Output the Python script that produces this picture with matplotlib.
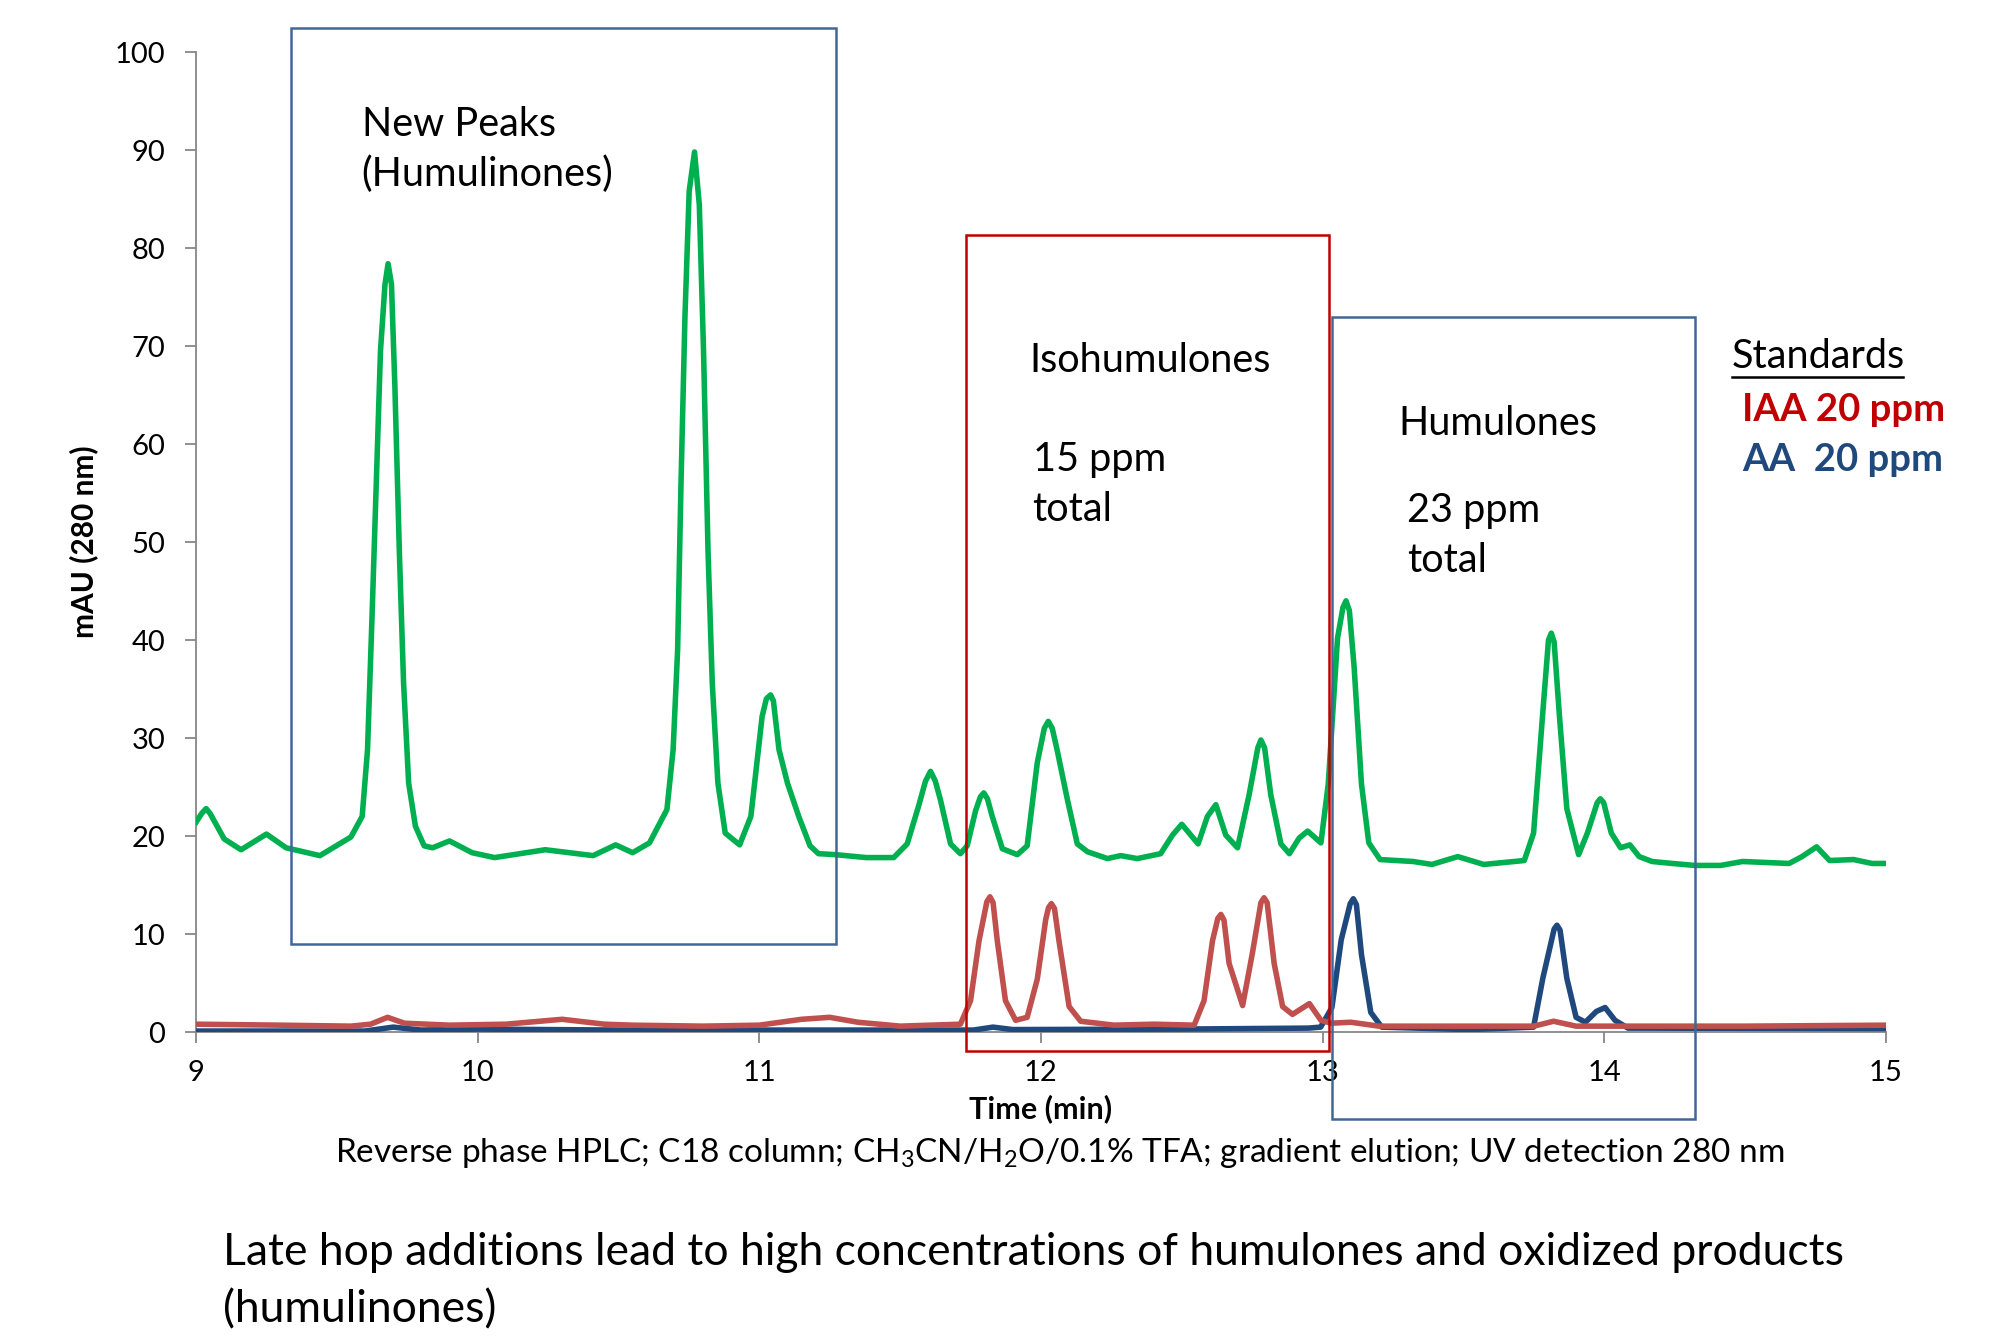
import matplotlib
matplotlib.use("Agg")
import matplotlib.pyplot as plt
from matplotlib.patches import Rectangle
from matplotlib.lines import Line2D

plt.rcParams['font.family'] = ['Lato', 'DejaVu Sans']
plt.rcParams['mathtext.fontset'] = 'custom'
plt.rcParams['mathtext.rm'] = 'Lato'

# green trace (sample)
green_t = [9.00, 9.02, 9.036, 9.05, 9.10, 9.16, 9.25, 9.32, 9.44, 9.55, 9.59, 9.609, 9.625, 9.64,
           9.655, 9.671, 9.682, 9.694, 9.706, 9.722, 9.737, 9.755, 9.779, 9.81, 9.84, 9.90,
           9.98, 10.06, 10.24, 10.41, 10.49, 10.55, 10.61, 10.672, 10.694, 10.71, 10.722,
           10.736, 10.751, 10.77, 10.787, 10.802, 10.818, 10.833, 10.853, 10.879, 10.93,
           10.97, 11.01, 11.025, 11.04, 11.05, 11.07, 11.10, 11.14, 11.18, 11.21, 11.27,
           11.38, 11.477, 11.525, 11.566, 11.59, 11.608, 11.625, 11.643, 11.679, 11.714,
           11.738, 11.768, 11.785, 11.797, 11.81, 11.827, 11.863, 11.916, 11.951, 11.987,
           12.012, 12.026, 12.04, 12.058, 12.094, 12.129, 12.165, 12.236, 12.283, 12.342,
           12.425, 12.467, 12.50, 12.558, 12.591, 12.621, 12.656, 12.698, 12.739, 12.77,
           12.781, 12.794, 12.816, 12.852, 12.882, 12.917, 12.947, 12.994, 13.02, 13.053,
           13.072, 13.083, 13.095, 13.112, 13.138, 13.164, 13.204, 13.322, 13.388, 13.48,
           13.572, 13.716, 13.749, 13.782, 13.802, 13.812, 13.822, 13.841, 13.867, 13.909,
           13.94, 13.975, 13.986, 13.998, 14.025, 14.058, 14.091, 14.124, 14.17, 14.242,
           14.321, 14.413, 14.491, 14.656, 14.702, 14.754, 14.80, 14.885, 14.951, 15.0]
green_v = [21.4, 22.3, 22.8, 22.3, 19.7, 18.6, 20.2, 18.8, 18.0, 19.9, 22.0, 28.8, 42.4, 55.9,
           69.5, 76.3, 78.4, 76.3, 66.0, 49.0, 35.6, 25.4, 21.0, 19.0, 18.8, 19.5,
           18.3, 17.8, 18.6, 18.0, 19.1, 18.3, 19.3, 22.7, 28.8, 39.0, 56.0,
           73.0, 85.8, 89.8, 84.4, 69.5, 49.0, 35.6, 25.4, 20.3, 19.1,
           22.0, 32.2, 34.0, 34.4, 33.8, 28.8, 25.4, 22.0, 19.0, 18.2, 18.1,
           17.8, 17.8, 19.2, 23.1, 25.6, 26.6, 25.6, 23.7, 19.2, 18.2,
           19.0, 22.6, 24.0, 24.4, 23.8, 22.0, 18.7, 18.1, 19.0, 27.5,
           31.0, 31.7, 31.0, 28.7, 23.7, 19.2, 18.4, 17.7, 18.0, 17.7,
           18.2, 20.1, 21.2, 19.2, 22.0, 23.2, 20.1, 18.8, 24.2, 29.0,
           29.8, 29.0, 24.2, 19.2, 18.2, 19.8, 20.5, 19.3, 25.3, 40.2,
           43.3, 44.0, 43.0, 37.2, 25.3, 19.3, 17.6, 17.4, 17.1, 17.9,
           17.1, 17.5, 20.3, 32.7, 40.0, 40.7, 39.8, 32.2, 22.8, 18.1,
           20.3, 23.4, 23.8, 23.4, 20.3, 18.8, 19.1, 17.9, 17.4, 17.2,
           17.0, 17.0, 17.4, 17.2, 17.9, 18.9, 17.5, 17.6, 17.2, 17.2]

# IAA 20 ppm standard (red)
red_t = [9.00, 9.30, 9.55, 9.62, 9.68, 9.74, 9.90, 10.10, 10.30, 10.45, 10.55, 10.80, 11.00,
         11.15, 11.25, 11.35, 11.50, 11.714, 11.75, 11.78, 11.808, 11.819, 11.83, 11.845,
         11.874, 11.91, 11.951, 11.987, 12.017, 12.027, 12.037, 12.048, 12.064, 12.10,
         12.141, 12.259, 12.402, 12.544, 12.579, 12.609, 12.628, 12.639, 12.65, 12.668,
         12.716, 12.751, 12.781, 12.792, 12.803, 12.828, 12.858, 12.893, 12.953, 12.994,
         13.03, 13.10, 13.20, 13.75, 13.82, 13.90, 14.50, 15.0]
red_v = [0.8, 0.7, 0.6, 0.8, 1.5, 0.9, 0.7, 0.8, 1.3, 0.8, 0.7, 0.6, 0.7,
         1.3, 1.5, 1.0, 0.6, 0.8, 3.2, 9.3, 13.3, 13.8, 13.2, 9.3,
         3.2, 1.2, 1.5, 5.4, 11.5, 12.7, 13.1, 12.6, 9.3, 2.6,
         1.1, 0.7, 0.8, 0.7, 3.2, 9.3, 11.6, 12.0, 11.4, 7.0,
         2.7, 8.1, 13.2, 13.7, 13.2, 7.0, 2.6, 1.8, 2.9, 1.2,
         0.9, 1.0, 0.6, 0.6, 1.1, 0.6, 0.6, 0.7]

# AA 20 ppm standard (blue)
blue_t = [9.00, 9.60, 9.70, 9.80, 10.00, 10.50, 11.00, 11.50, 11.76, 11.83, 11.90, 12.50,
          12.95, 12.993, 13.033, 13.066, 13.098, 13.109, 13.12, 13.138, 13.171, 13.21,
          13.519, 13.749, 13.782, 13.822, 13.832, 13.843, 13.867, 13.90, 13.933, 13.972,
          14.003, 14.038, 14.084, 15.0]
blue_v = [0.1, 0.1, 0.5, 0.2, 0.3, 0.2, 0.2, 0.2, 0.2, 0.5, 0.25, 0.3,
          0.4, 0.5, 2.5, 9.4, 13.1, 13.6, 13.0, 7.9, 2.0, 0.5,
          0.25, 0.5, 5.5, 10.5, 10.9, 10.4, 5.5, 1.5, 1.0, 2.1,
          2.5, 1.2, 0.4, 0.35]

# region boxes: (t_left, t_right, v_bottom, v_top, colour)
boxes = [(9.339, 11.271, 8.97, 102.5, '#41669A'),
         (11.733, 13.023, -1.95, 81.3, '#C00000'),
         (13.032, 14.321, -8.84, 72.95, '#41669A')]

fig = plt.figure(figsize=(19.98, 13.37), dpi=100)
ax = fig.add_axes([0.0981, 0.2281, 0.8458, 0.7330])

ax.plot(blue_t, blue_v, color='#1F497D', lw=4, solid_joinstyle='round', zorder=3)
ax.plot(red_t, red_v, color='#C0504D', lw=4, solid_joinstyle='round', zorder=4)
ax.plot(green_t, green_v, color='#00B050', lw=4, solid_joinstyle='round', zorder=5)

for x0, x1, y0, y1, c in boxes:
    ax.add_patch(Rectangle((x0, y0), x1 - x0, y1 - y0, fill=False, edgecolor=c,
                           lw=1.8, clip_on=False, zorder=6))

ax.set_xlim(9, 15)
ax.set_ylim(0, 100)
ax.set_xticks(range(9, 16))
ax.set_yticks(range(0, 101, 10))
for s in ['top', 'right']:
    ax.spines[s].set_visible(False)
for s in ['left', 'bottom']:
    ax.spines[s].set_color('#878787')
    ax.spines[s].set_linewidth(1.3)
ax.tick_params(axis='both', colors='#878787', length=8, width=1.3, labelsize=21,
               labelcolor='black')
ax.tick_params(axis='y', pad=14)
ax.tick_params(axis='x', pad=12)
ax.set_xlabel('Time (min)', fontsize=22, fontweight='bold', labelpad=6)
ax.set_ylabel('mAU (280 nm)', fontsize=21.5, fontweight='bold', labelpad=12)

kw = dict(fontsize=28.5, va='center', ha='left', clip_on=False)
ax.text(9.588, 92.6, 'New Peaks', **kw)
ax.text(9.588, 87.5, '(Humulinones)', **kw)
ax.text(11.959, 68.5, 'Isohumulones', **kw)
ax.text(11.97, 58.4, '15 ppm', **kw)
ax.text(11.97, 53.3, 'total', **kw)
ax.text(13.27, 62.1, 'Humulones', **kw)
ax.text(13.30, 53.2, '23 ppm', **kw)
ax.text(13.30, 48.1, 'total', **kw)

fig.text(0.8668, 0.7331, 'Standards', fontsize=28.5, ha='left', va='center')
fig.add_artist(Line2D([0.8668, 0.9525], [0.7180, 0.7180], color='black', lw=1.8))
fig.text(0.8720, 0.6937, 'IAA 20 ppm', fontsize=27.5, fontweight='bold', color='#C00000',
         ha='left', va='center')
fig.text(0.8720, 0.6559, 'AA  20 ppm', fontsize=27.5, fontweight='bold', color='#1F497D',
         ha='left', va='center')

fig.text(0.5303, 0.1375,
         r'Reverse phase HPLC; C18 column; CH$\mathregular{_3}$CN/H$\mathregular{_2}$O/0.1% TFA; '
         'gradient elution; UV detection 280 nm', fontsize=24, ha='center', va='center')
fig.text(0.1116, 0.0632,
         'Late hop additions lead to high concentrations of humulones and oxidized products',
         fontsize=32, ha='left', va='center')
fig.text(0.1116, 0.0202, '(humulinones)', fontsize=32, ha='left', va='center')

fig.savefig('out.png', dpi=100)
